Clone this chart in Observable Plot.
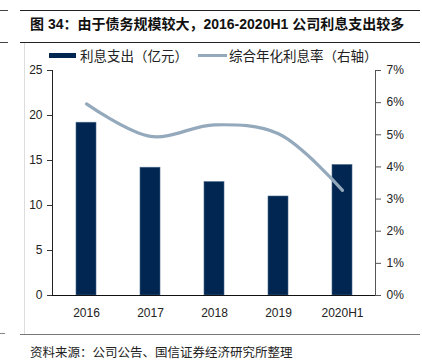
<!DOCTYPE html>
<html>
<head>
<meta charset="utf-8">
<script src="https://cdn.jsdelivr.net/npm/d3@7"></script>
<script src="https://cdn.jsdelivr.net/npm/@observablehq/plot@0.6"></script>
<style>
  html, body { margin: 0; padding: 0; background: #fff; }
  #wrap { position: relative; width: 422px; height: 362px; overflow: hidden; font-family: "Noto Sans CJK SC", "Liberation Sans", sans-serif; }
  .hr { position: absolute; height: 0; }
  #title { position: absolute; left: 30px; top: 13px; font-size: 14px; font-weight: bold; color: #111; white-space: nowrap; font-family: "Liberation Sans", "Noto Sans CJK SC", sans-serif; }
  #legend { position: absolute; left: 0; top: 46px; width: 422px; height: 18px; font-size: 13.5px; color: #222; }
  .sw { position: absolute; }
  .lt { position: absolute; top: 0; white-space: nowrap; line-height: 18px; }
  #chart { position: absolute; left: 0; top: 60px; }
  #foot { position: absolute; left: 30px; top: 343px; font-size: 12.5px; color: #222; white-space: nowrap; line-height: 18px; }
</style>
</head>
<body>
<div id="wrap">
  <div class="hr" style="left:20px;width:400px;top:10px;border-top:1px solid #222"></div>
  <div class="hr" style="left:0px;width:8px;top:10px;border-top:1px solid #444"></div>
  <div class="hr" style="left:20px;width:400px;top:42px;border-top:1px solid #222"></div>
  <div class="hr" style="left:0px;width:8px;top:42px;border-top:1px solid #444"></div>
  <div style="position:absolute;left:24px;top:43px;width:0;height:292px;border-left:1px solid #ddd"></div>
  <div class="hr" style="left:20px;width:400px;top:334px;border-top:1.5px solid #777"></div>
  <div class="hr" style="left:0px;width:5px;top:333px;border-top:1px solid #888"></div>
  <div id="title"></div>
  <div id="legend"></div>
  <div id="chart"></div>
  <div id="foot"></div>
</div>
<script>
const titleText = "图 34：由于债务规模较大，2016-2020H1 公司利息支出较多";
const footText = "资料来源：公司公告、国信证券经济研究所整理";
const barName = "利息支出（亿元）";
const lineName = "综合年化利息率（右轴）";
const categories = ["2016", "2017", "2018", "2019", "2020H1"];
const interest = [19.2, 14.2, 12.6, 11.0, 14.5];          // 亿元
const rate = [5.96, 4.95, 5.31, 5.03, 3.27];              // %
const leftTicks = [0, 5, 10, 15, 20, 25];
const rightTicks = [0, 1, 2, 3, 4, 5, 6, 7];
const leftMax = 25, rightMax = 7;
const barColor = "#002651";
const lineColor = "#95a9bd";

document.getElementById("title").textContent = titleText;
document.getElementById("foot").textContent = footText;

const legend = document.getElementById("legend");
legend.innerHTML = `
  <div class="sw" style="left:49px;top:7px;width:27px;height:5px;background:${barColor}"></div>
  <div class="lt" style="left:80px">${barName}</div>
  <div class="sw" style="left:198px;top:8px;width:29px;height:3px;background:${lineColor}"></div>
  <div class="lt" style="left:229px">${lineName}</div>`;

const data = categories.map((c, i) => ({cat: c, v: interest[i], r: rate[i]}));
const scaleR = leftMax / rightMax;

const plot = Plot.plot({
  width: 422,
  height: 262,
  marginLeft: 52,
  marginRight: 47,
  marginTop: 10,
  marginBottom: 27,
  style: {fontFamily: "'Liberation Sans', Arial, sans-serif", fontSize: "12px", color: "#222", background: "transparent"},
  x: {domain: categories, paddingInner: 0.69, paddingOuter: 0.345, label: null},
  y: {domain: [0, leftMax], label: null},
  marks: [
    Plot.barY(data, {x: "cat", y: "v", fill: barColor, stroke: "#4a6a8c", strokeWidth: 0.6}),
    Plot.line(data, {x: "cat", y: d => d.r * scaleR, stroke: lineColor, strokeWidth: 3.2, curve: "catmull-rom"}),
    Plot.frame({anchor: "left", stroke: "#222"}),
    Plot.frame({anchor: "right", stroke: "#555"}),
    Plot.ruleY([0], {stroke: "#111", strokeWidth: 1.2}),
    Plot.axisY(leftTicks, {anchor: "left", tickSize: 5, tickPadding: 5, stroke: "#333", label: null}),
    Plot.axisY(rightTicks.map(t => t * scaleR), {anchor: "right", tickSize: 5, tickPadding: 6, stroke: "#555", tickFormat: d => Math.round(d / scaleR) + "%", label: null}),
    Plot.axisX({tickSize: 0, tickPadding: 13, label: null})
  ]
});
document.getElementById("chart").appendChild(plot);
</script>
</body>
</html>
